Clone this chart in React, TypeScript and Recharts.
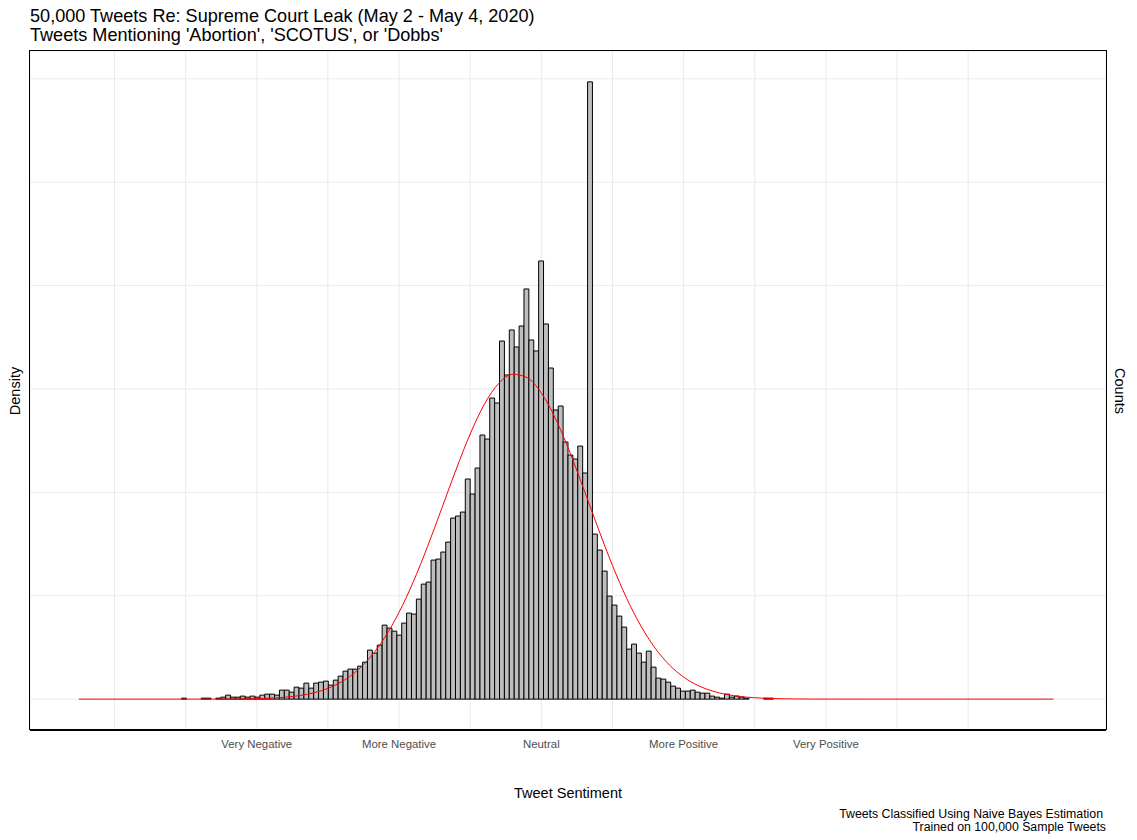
import React from 'react';
import { ComposedChart, Bar, Line, XAxis, YAxis, CartesianGrid } from 'recharts';

// ---------- data ----------
const BIN_START = -3.25;
const BIN_WIDTH = 0.034375;

// density of each of the 200 histogram bins
const binDensity: number[] = [
  0, 0, 0, 0, 0, 0, 0, 0, 0, 0,
  0, 0, 0, 0, 0, 0, 0, 0, 0, 0,
  0, 0.0024, 0, 0, 0, 0.0024, 0.0024, 0, 0.0024, 0.0048,
  0.0097, 0.0048, 0.0048, 0.0073, 0.0048, 0.0073, 0.0048, 0.0097, 0.0121, 0.0121,
  0.0097, 0.0218, 0.0218, 0.0169, 0.029, 0.0266, 0.0387, 0.0266, 0.0387, 0.0411,
  0.0435, 0.0339, 0.046, 0.0556, 0.0677, 0.0726, 0.0726, 0.0798, 0.0895, 0.1186,
  0.1113, 0.1306, 0.179, 0.1718, 0.1645, 0.1548, 0.1839, 0.2081, 0.2056, 0.2419,
  0.2782, 0.2831, 0.3363, 0.3387, 0.3557, 0.3798, 0.4379, 0.4428, 0.4524, 0.5323,
  0.496, 0.5589, 0.6387, 0.629, 0.7282, 0.7161, 0.8661, 0.7839, 0.8928, 0.8516,
  0.9024, 0.992, 0.8686, 0.842, 1.0597, 0.9073, 0.8008, 0.6992, 0.7089, 0.6218,
  0.5903, 0.5807, 0.6121, 0.5468, 1.4928, 0.3992, 0.3605, 0.3097, 0.2492, 0.2274,
  0.2008, 0.1742, 0.121, 0.1331, 0.1113, 0.0895, 0.1161, 0.0774, 0.0508, 0.0484,
  0.0411, 0.0315, 0.0266, 0.0194, 0.0194, 0.0218, 0.0169, 0.0145, 0.0145, 0.0073,
  0.0048, 0.0024, 0.0121, 0.0048, 0.0073, 0.0048, 0.0024, 0, 0, 0,
  0.0024, 0.0024, 0, 0, 0, 0, 0, 0, 0, 0,
  0, 0, 0, 0, 0, 0, 0, 0, 0, 0,
  0, 0, 0, 0, 0, 0, 0, 0, 0, 0,
  0, 0, 0, 0, 0, 0, 0, 0, 0, 0,
  0, 0, 0, 0, 0, 0, 0, 0, 0, 0,
  0, 0, 0, 0, 0, 0, 0, 0, 0, 0,
];

// red density curve
const curveX: number[] = [
  -3.25, -2.3, -2.2, -2.1, -2.0, -1.9, -1.8, -1.7, -1.6, -1.5, -1.4, -1.3, -1.2, -1.1,
  -1.0, -0.9, -0.8, -0.7, -0.6, -0.5, -0.4, -0.3, -0.2, -0.1, 0.0, 0.1, 0.2, 0.3, 0.4,
  0.5, 0.6, 0.7, 0.8, 0.9, 1.0, 1.1, 1.2, 1.3, 1.4, 1.5, 1.6, 1.7, 1.8, 1.9, 3.6,
];
const curveDensity: number[] = [
  0, 0.0001, 0.0003, 0.0006, 0.0012, 0.0024, 0.0047, 0.0086, 0.0152, 0.026, 0.0427, 0.0674, 0.1023, 0.1494,
  0.2099, 0.2837, 0.3688, 0.4611, 0.5544, 0.6412, 0.7134, 0.7633, 0.7856, 0.7777, 0.7405, 0.6782, 0.5974, 0.5062, 0.4125,
  0.3233, 0.2438, 0.1768, 0.1233, 0.0827, 0.0534, 0.0331, 0.0198, 0.0114, 0.0063, 0.0033, 0.0017, 0.0008, 0.0004, 0.0002, 0,
];

const tickValues = [-2, -1, 0, 1, 2];
const tickLabels = ['Very Negative', 'More Negative', 'Neutral', 'More Positive', 'Very Positive'];
const xGridValues = [-3, -2.5, -2, -1.5, -1, -0.5, 0, 0.5, 1, 1.5, 2, 2.5, 3];
const yGridValues = [0, 0.25, 0.5, 0.75, 1, 1.25, 1.5];

const titleLines = [
  '50,000 Tweets Re: Supreme Court Leak (May 2 - May 4, 2020)',
  "Tweets Mentioning 'Abortion', 'SCOTUS', or 'Dobbs'",
];
const xTitle = 'Tweet Sentiment';
const yTitleLeft = 'Density';
const yTitleRight = 'Counts';
const captionLines = ['Tweets Classified Using Naive Bayes Estimation', 'Trained on 100,000 Sample Tweets'];

// ---------- derived ----------
const binData = binDensity.map((d, i) => ({ x: BIN_START + (i + 0.5) * BIN_WIDTH, density: d }));
const curveData = curveX.map((x, i) => ({ x, curve: curveDensity[i] }));

const BIN_END = BIN_START + binDensity.length * BIN_WIDTH;
const X_PAD = (BIN_END - BIN_START) * 0.05;
const X_DOMAIN: [number, number] = [BIN_START - X_PAD, BIN_END + X_PAD];
const Y_MAX = Math.max(...binDensity);
const Y_DOMAIN: [number, number] = [-Y_MAX * 0.05, Y_MAX * 1.05];

// ---------- layout ----------
const W = 1137;
const H = 840;
const PLOT_LEFT = 30;
const PLOT_RIGHT = 1106;
const PLOT_TOP = 51;
const PLOT_BOTTOM = 730;
const X_AXIS_H = 30;
const BAR_PX = (BIN_WIDTH * (PLOT_RIGHT - PLOT_LEFT)) / (X_DOMAIN[1] - X_DOMAIN[0]) - 0.01;
const FONT = '"Liberation Sans", Arial, sans-serif';

const fmtTick = (v: number) => {
  const k = tickValues.indexOf(v);
  return k >= 0 ? tickLabels[k] : '';
};

const EmptyTick = () => <g />;

export default function App() {
  return (
    <div style={{ position: 'absolute', left: 0, top: 0, width: W, height: H, background: '#fff', fontFamily: FONT }}>
      <ComposedChart
        width={W}
        height={H}
        data={binData}
        margin={{ top: PLOT_TOP, right: W - PLOT_RIGHT, left: PLOT_LEFT, bottom: H - PLOT_BOTTOM - X_AXIS_H }}
      >
        <CartesianGrid stroke="#EBEBEB" strokeWidth={1} />
        <XAxis
          type="number"
          dataKey="x"
          domain={X_DOMAIN}
          allowDataOverflow
          ticks={xGridValues}
          interval={0}
          tickFormatter={fmtTick}
          tickLine={false}
          tickMargin={4}
          axisLine={{ stroke: '#000', strokeWidth: 2 }}
          height={X_AXIS_H}
          tick={{ fontSize: 11.4, fill: '#4D4D4D', fontFamily: FONT }}
        />
        <XAxis xAxisId="curve" type="number" dataKey="x" domain={X_DOMAIN} allowDataOverflow hide />
        <YAxis
          type="number"
          domain={Y_DOMAIN}
          allowDataOverflow
          ticks={yGridValues}
          interval={0}
          width={0}
          tick={EmptyTick}
          tickLine={false}
          axisLine={false}
        />
        <Bar
          dataKey="density"
          fill="#BEBEBE"
          stroke="#000"
          strokeWidth={1}
          barSize={BAR_PX}
          isAnimationActive={false}
        />
        <Line
          data={curveData}
          xAxisId="curve"
          dataKey="curve"
          type="monotone"
          stroke="#FF0000"
          strokeWidth={1}
          dot={false}
          activeDot={false}
          isAnimationActive={false}
        />
      </ComposedChart>
      <div
        style={{
          position: 'absolute',
          left: PLOT_LEFT - 1,
          top: PLOT_TOP - 1,
          width: PLOT_RIGHT - PLOT_LEFT + 2,
          height: PLOT_BOTTOM - PLOT_TOP + 1,
          border: '1px solid #000',
          boxSizing: 'border-box',
          pointerEvents: 'none',
        }}
      />
      <svg
        width={W}
        height={H}
        style={{ position: 'absolute', left: 0, top: 0, pointerEvents: 'none' }}
        fontFamily={FONT}
      >
        <text x={30} y={22} fontSize={18.1} fill="#000">{titleLines[0]}</text>
        <text x={30} y={41} fontSize={18.1} fill="#000">{titleLines[1]}</text>
        <text x={(PLOT_LEFT + PLOT_RIGHT) / 2} y={798} fontSize={14.5} fill="#000" textAnchor="middle">{xTitle}</text>
        <text transform={`translate(20,391) rotate(-90)`} fontSize={14.5} fill="#000" textAnchor="middle">{yTitleLeft}</text>
        <text transform={`translate(1115,391) rotate(90)`} fontSize={14.5} fill="#000" textAnchor="middle">{yTitleRight}</text>
        <text x={1103} y={818} fontSize={12.3} fill="#000" textAnchor="end">{captionLines[0]}</text>
        <text x={1106} y={831} fontSize={12.3} fill="#000" textAnchor="end">{captionLines[1]}</text>
      </svg>
    </div>
  );
}
